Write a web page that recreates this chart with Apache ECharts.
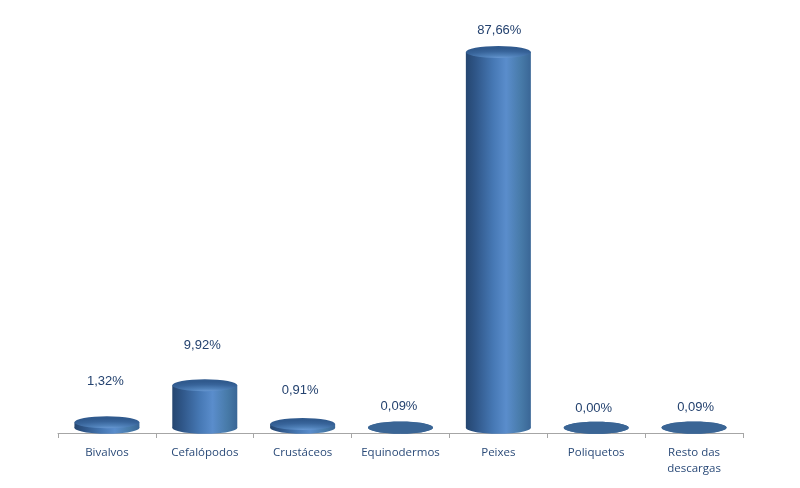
<!DOCTYPE html>
<html>
<head>
<meta charset="utf-8">
<style>html,body{margin:0;padding:0;background:#fff}#c{width:800px;height:488px}</style>
<script src="https://cdn.jsdelivr.net/npm/echarts@6/dist/echarts.min.js"></script>
</head>
<body>
<div id="c"></div>
<script>
const categories = ['Bivalvos','Cefalópodos','Crustáceos','Equinodermos','Peixes','Poliquetos','Resto das\ndescargas'];
const values = [1.32, 9.92, 0.91, 0.09, 87.66, 0.00, 0.09];
const valueLabels = ['1,32%','9,92%','0,91%','0,09%','87,66%','0,00%','0,09%'];
const labelLift = [41, 40, 34, 21, 22, 19, 20];
const labelShift = [-1.5, -2.5, -2.5, -1.5, 1, -2.5, 1.5];

const RX = 32.5, RY = 6;
const grad = (x, y, x2, y2, stops) => new echarts.graphic.LinearGradient(x, y, x2, y2, stops.map(c => ({offset: c[0], color: c[1]})));
const bodyFill = () => grad(0,0,1,0,[[0,'#254670'],[0.15,'#2f5688'],[0.42,'#4678b4'],[0.62,'#5a8dcc'],[0.85,'#477aa8'],[1,'#3a6696']]);
const topFill = () => new echarts.graphic.RadialGradient(0.55, 1.15, 0.95, [
  {offset: 0, color: '#78a8e4'},
  {offset: 0.4, color: '#4f80b8'},
  {offset: 0.75, color: '#38649a'},
  {offset: 1, color: '#305a8e'}
]);

function renderItem(params, api) {
  const i = params.dataIndex;
  const top = api.coord([api.value(0), api.value(1)]);
  const base = api.coord([api.value(0), 0]);
  const cx = top[0], h = base[1] - top[1];
  const flat = h < 2;
  const children = [
    {type:'ellipse', shape:{cx, cy:base[1], rx:RX, ry:RY}, style:{fill: flat ? '#3a6595' : bodyFill()}},
    {type:'rect', shape:{x:cx-RX, y:top[1], width:RX*2, height:h}, style:{fill: bodyFill()}},
    flat
      ? {type:'ellipse', shape:{cx, cy:top[1], rx:RX, ry:RY}, style:{fill:'#3a6595'}}
      : {type:'circle', x:cx, y:top[1], scaleX:RX/RY, shape:{cx:0, cy:0, r:RY}, style:{fill: topFill()}},
    {type:'text', style:{text:valueLabels[i], x:cx+labelShift[i], y:top[1]-labelLift[i], align:'center', verticalAlign:'middle',
      font:'13px "Liberation Sans", Arial, sans-serif', fill:'#24426f'}}
  ];
  return {type:'group', children};
}

echarts.init(document.getElementById('c'), null, {renderer:'canvas'}).setOption({
  animation:false,
  backgroundColor:'#fff',
  grid:{left:58, right:57, top:42, bottom:55},
  xAxis:{type:'category', data:categories,
    axisLine:{onZero:false, lineStyle:{color:'#a6a6a6', width:1}},
    axisTick:{show:true, alignWithLabel:false, length:5, lineStyle:{color:'#a6a6a6'}},
    axisLabel:{color:'#2a4a78', fontFamily:'"Open Sans", sans-serif', fontSize:11.5, margin:12, lineHeight:16, interval:0}},
  yAxis:{type:'value', min:-1.2, max:90, show:false, splitLine:{show:false}},
  series:[{type:'custom', renderItem, clip:false, encode:{x:0,y:1},
    data:values.map((v,i)=>[i,v])}]
});
</script>
</body>
</html>
